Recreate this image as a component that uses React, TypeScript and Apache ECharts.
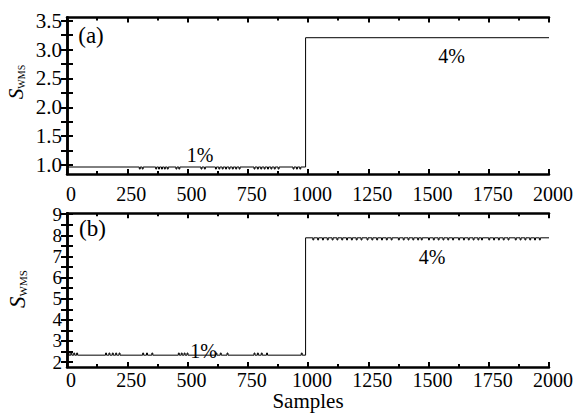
import React, { useEffect, useRef } from "react";
import * as echarts from "echarts";

// ---- data ----
const sampleMax = 2000;
const xTickLabels = [0, 250, 500, 750, 1000, 1250, 1500, 1750, 2000];

// panel (a)
const stepA = 990;
const lowA = 0.965; // 1% level
const highA = 3.205; // 4% level
const glitchLowA = [300, 312, 368, 380, 392, 404, 416, 452, 464, 556, 570, 616, 630, 644, 658, 672, 686, 700, 714, 776, 790, 804, 818, 832, 846, 860, 876, 938, 952, 966];
const glitchHighA: number[] = [];
const glitchDeltaLowA = -0.035;
const glitchDeltaHighA = -0.035;
const yLabelsA = [1.0, 1.5, 2.0, 2.5, 3.0, 3.5];
const yTicksA = [1.0, 1.25, 1.5, 1.75, 2.0, 2.25, 2.5, 2.75, 3.0, 3.25, 3.5];

// panel (b)
const stepB = 990;
const lowB = 2.33;
const highB = 7.88;
const glitchLowB = [4, 16, 28, 40, 160, 174, 188, 202, 216, 314, 330, 352, 462, 474, 486, 498, 618, 636, 664, 776, 790, 806, 828, 972];
const glitchHighB = [1020, 1040, 1060, 1080, 1100, 1120, 1140, 1160, 1180, 1200, 1220, 1245, 1265, 1285, 1305, 1325, 1345, 1375, 1395, 1415, 1435, 1455, 1470, 1500, 1520, 1540, 1560, 1580, 1600, 1625, 1645, 1665, 1685, 1705, 1720, 1750, 1770, 1790, 1810, 1830, 1860, 1880, 1900, 1920, 1940, 1960];
const glitchDeltaLowB = 0.1;
const glitchDeltaHighB = -0.1;
const yLabelsB = [2, 3, 4, 5, 6, 7, 8, 9];
const yTicksB = [2, 2.5, 3, 3.5, 4, 4.5, 5, 5.5, 6, 6.5, 7, 7.5, 8, 8.5, 9];

const glitchWidth = 4;

function buildSeries(step: number, low: number, high: number, gLow: number[], gHigh: number[], dLow: number, dHigh: number) {
  const pts: number[][] = [[0, low]];
  for (const s of gLow) {
    pts.push([s, low], [s, low + dLow], [s + glitchWidth, low + dLow], [s + glitchWidth, low]);
  }
  pts.push([step, low], [step, high]);
  for (const s of gHigh) {
    pts.push([s, high], [s, high + dHigh], [s + glitchWidth, high + dHigh], [s + glitchWidth, high]);
  }
  pts.push([sampleMax, high]);
  return pts;
}

const FONT = "Liberation Serif";

export default function App() {
  const ref = useRef<HTMLDivElement>(null);
  useEffect(() => {
    if (!ref.current) return;
    const chart = echarts.init(ref.current, null, { renderer: "svg" });
    const axisLine = { show: true, lineStyle: { color: "#000", width: 2.5 } };
    const xBase = (gridIndex: number, position: "top" | "bottom", showLabel: boolean, margin: number) => ({
      type: "value",
      gridIndex,
      position,
      min: 0,
      max: sampleMax,
      interval: 250,
      axisLine,
      axisTick: { show: true, inside: true, length: 5, lineStyle: { color: "#000", width: 2 } },
      minorTick: { show: true, splitNumber: 2, length: 3, lineStyle: { color: "#000", width: 2 } },
      splitLine: { show: false },
      axisLabel: {
        show: showLabel,
        color: "#000",
        fontFamily: FONT,
        fontSize: 20,
        lineHeight: 18,
        margin,
        padding: [0, 0, 0, 8],
        customValues: xTickLabels,
        formatter: (v: number) => String(Math.round(v)),
      },
    });
    const yBase = (gridIndex: number, position: "left" | "right", showLabel: boolean, min: number, max: number, labels: number[], ticks: number[], fmt: (v: number) => string, fontSize: number) => ({
      type: "value",
      gridIndex,
      position,
      min,
      max,
      axisLine,
      axisTick: { show: true, inside: true, length: 6, lineStyle: { color: "#000", width: 2 }, customValues: ticks },
      splitLine: { show: false },
      axisLabel: {
        show: showLabel,
        color: "#000",
        fontFamily: FONT,
        fontSize,
        lineHeight: fontSize - 2,
        margin: 5,
        customValues: labels,
        formatter: (v: number) => fmt(v),
      },
    });
    const lineSeries = (idx: number, data: number[][]) => ({
      type: "line",
      xAxisIndex: idx * 2,
      yAxisIndex: idx * 2,
      data,
      showSymbol: false,
      symbol: "none",
      lineStyle: { color: "#000", width: 1 },
    });
    const txt = (x: number, y: number, text: string, size = 20) => ({
      type: "text",
      x,
      y,
      style: { text, fill: "#000", fontFamily: FONT, fontSize: size, align: "center", verticalAlign: "middle" },
    });
    const yName = (x: number, y: number, sSize: number, subSize: number) => ({
      type: "text",
      x,
      y,
      rotation: Math.PI / 2,
      style: {
        text: "{s|S}{sub|WMS}",
        align: "center",
        verticalAlign: "middle",
        fill: "#000",
        fontFamily: FONT,
        rich: {
          s: { fontFamily: FONT, fontStyle: "italic", fontSize: sSize, lineHeight: sSize, verticalAlign: "bottom", fill: "#000" },
          sub: { fontFamily: FONT, fontSize: subSize, lineHeight: subSize + 1, verticalAlign: "bottom", fill: "#000" },
        },
      },
    });
    const fmtA = (v: number) => v.toFixed(1);
    const fmtB = (v: number) => String(Math.round(v));
    chart.setOption({
      animation: false,
      backgroundColor: "#fff",
      textStyle: { fontFamily: FONT },
      grid: [
        { left: 67, top: 17.5, width: 482, height: 156.5 },
        { left: 67, top: 213.3, width: 482, height: 153.7 },
      ],
      xAxis: [xBase(0, "bottom", true, 11), xBase(0, "top", false, 11), xBase(1, "bottom", true, 4), xBase(1, "top", false, 4)],
      yAxis: [
        yBase(0, "left", true, 0.844, 3.555, yLabelsA, yTicksA, fmtA, 21),
        yBase(0, "right", false, 0.844, 3.555, yLabelsA, yTicksA, fmtA, 21),
        yBase(1, "left", true, 1.77, 9.04, yLabelsB, yTicksB, fmtB, 19),
        yBase(1, "right", false, 1.77, 9.04, yLabelsB, yTicksB, fmtB, 19),
      ],
      series: [
        lineSeries(0, buildSeries(stepA, lowA, highA, glitchLowA, glitchHighA, glitchDeltaLowA, glitchDeltaHighA)),
        lineSeries(1, buildSeries(stepB, lowB, highB, glitchLowB, glitchHighB, glitchDeltaLowB, glitchDeltaHighB)),
      ],
      graphic: [
        txt(91, 35, "(a)", 23),
        txt(92.5, 228.5, "(b)", 23),
        txt(200, 154.5, "1%"),
        txt(451.5, 56, "4%"),
        txt(203.5, 351, "1%"),
        txt(432, 256.5, "4%"),
        txt(308, 401, "Samples", 21),
        yName(16, 82, 21, 10),
        yName(17, 289, 23, 11),
      ],
    });
    return () => chart.dispose();
  }, []);
  return <div ref={ref} style={{ position: "fixed", left: 0, top: 0, width: 577, height: 416 }} />;
}
